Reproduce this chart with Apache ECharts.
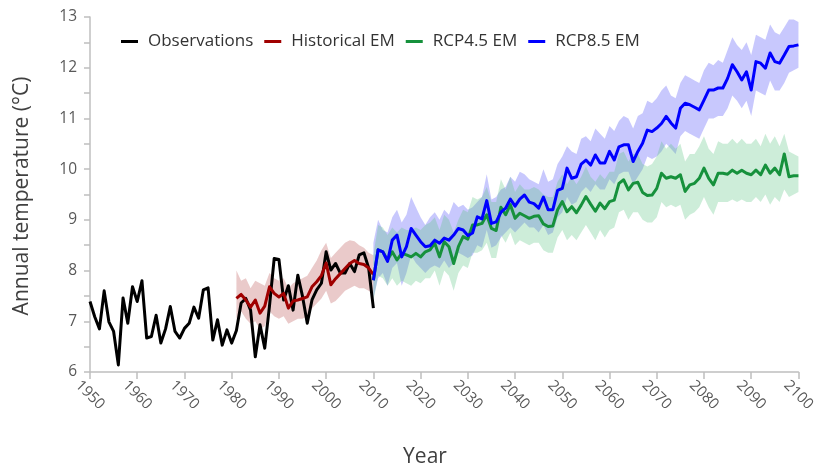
<!DOCTYPE html>
<html>
<head>
<meta charset="utf-8">
<script src="https://cdn.jsdelivr.net/npm/echarts@6/dist/echarts.min.js"></script>
<style>
  html, body { margin: 0; padding: 0; background: #ffffff; }
  #chart { width: 818px; height: 471px; }
</style>
</head>
<body>
<div id="chart"></div>
<script>
// Annual mean temperature: observations, historical ensemble mean and two RCP projections.

const obsStart = 1950;
const obsValues = [
  7.39, 7.09, 6.85, 7.60, 6.99, 6.80, 6.14, 7.46, 6.96, 7.68,
  7.39, 7.80, 6.67, 6.70, 7.12, 6.57, 6.85, 7.29, 6.80, 6.67,
  6.86, 6.96, 7.28, 7.06, 7.62, 7.66, 6.63, 7.03, 6.53, 6.83,
  6.57, 6.82, 7.36, 7.45, 7.22, 6.30, 6.93, 6.47, 7.30, 8.24,
  8.22, 7.42, 7.70, 7.22, 7.91, 7.49, 6.96, 7.42, 7.62, 7.75,
  8.37, 8.01, 8.14, 7.95, 7.95, 8.14, 7.98, 8.31, 8.35, 8.05,
  7.26
];

const histStart = 1981;
const histMean = [
  7.45, 7.53, 7.42, 7.28, 7.42, 7.16, 7.30, 7.68, 7.55, 7.48,
  7.55, 7.26, 7.40, 7.42, 7.45, 7.48, 7.68, 7.78, 7.90, 8.15,
  7.72, 7.84, 7.94, 8.04, 8.14, 8.20, 8.14, 8.12, 8.05, 7.92
];
const histHigh = [
  8.00, 7.80, 7.85, 7.65, 7.80, 7.75, 7.70, 7.95, 7.85, 7.80,
  7.85, 7.65, 7.75, 7.80, 7.85, 7.90, 8.05, 8.20, 8.40, 8.55,
  8.25, 8.35, 8.45, 8.55, 8.60, 8.58, 8.50, 8.45, 8.35, 8.30
];
const histLow = [
  7.05, 7.20, 7.05, 6.95, 7.00, 6.85, 6.90, 7.20, 7.10, 7.05,
  7.10, 6.95, 7.00, 7.05, 7.05, 7.10, 7.25, 7.35, 7.45, 7.60,
  7.35, 7.40, 7.50, 7.60, 7.65, 7.70, 7.65, 7.65, 7.60, 7.55
];

const rcpStart = 2010;
const rcp45Mean = [
  7.81, 8.41, 8.37, 8.21, 8.37, 8.21, 8.34, 8.31, 8.27, 8.34,
  8.27, 8.37, 8.41, 8.54, 8.27, 8.57, 8.47, 8.14, 8.47, 8.67,
  8.62, 8.90, 8.90, 8.93, 9.10, 8.83, 8.79, 9.25, 9.10, 9.30,
  9.03, 9.13, 9.08, 9.03, 9.07, 9.08, 8.92, 8.87, 8.88, 9.20,
  9.36, 9.16, 9.26, 9.14, 9.29, 9.46, 9.31, 9.17, 9.33, 9.22,
  9.36, 9.39, 9.72, 9.79, 9.59, 9.72, 9.74, 9.54, 9.48, 9.49,
  9.62, 9.92, 9.82, 9.85, 9.82, 9.89, 9.56, 9.69, 9.72, 9.82,
  10.02, 9.82, 9.69, 9.92, 9.92, 9.90, 9.98, 9.92, 9.98, 9.92,
  9.89, 9.98, 9.89, 10.08, 9.92, 10.02, 9.89, 10.30, 9.85, 9.87,
  9.87
];
const rcp45High = [
  8.30, 8.90, 8.85, 8.70, 8.85, 8.75, 8.85, 8.80, 8.80, 8.85,
  8.80, 8.90, 8.95, 9.05, 8.80, 9.10, 9.00, 8.75, 9.00, 9.20,
  9.15, 9.45, 9.40, 9.45, 9.65, 9.35, 9.35, 9.80, 9.60, 9.85,
  9.55, 9.70, 9.60, 9.60, 9.65, 9.60, 9.50, 9.45, 9.45, 9.75,
  9.90, 9.70, 9.85, 9.70, 9.85, 10.05, 9.85, 9.75, 9.90, 9.80,
  9.95, 9.95, 10.30, 10.35, 10.15, 10.30, 10.30, 10.10, 10.05, 10.10,
  10.25, 10.55, 10.40, 10.50, 10.40, 10.50, 10.15, 10.30, 10.30, 10.45,
  10.65, 10.40, 10.30, 10.55, 10.50, 10.50, 10.60, 10.50, 10.60, 10.50,
  10.50, 10.60, 10.45, 10.70, 10.50, 10.65, 10.45, 10.70, 10.35, 10.30,
  10.25
];
const rcp45Low = [
  7.40, 7.90, 7.85, 7.70, 7.85, 7.70, 7.80, 7.75, 7.70, 7.80,
  7.75, 7.85, 7.85, 8.00, 7.70, 8.00, 7.90, 7.60, 7.95, 8.10,
  8.05, 8.35, 8.35, 8.40, 8.55, 8.25, 8.25, 8.70, 8.55, 8.75,
  8.50, 8.60, 8.55, 8.50, 8.55, 8.55, 8.40, 8.35, 8.35, 8.65,
  8.80, 8.60, 8.70, 8.60, 8.75, 8.90, 8.75, 8.60, 8.80, 8.65,
  8.80, 8.85, 9.15, 9.20, 9.00, 9.15, 9.15, 9.00, 8.95, 8.95,
  9.05, 9.35, 9.25, 9.30, 9.25, 9.30, 9.00, 9.10, 9.15, 9.25,
  9.45, 9.25, 9.10, 9.35, 9.35, 9.35, 9.40, 9.35, 9.40, 9.35,
  9.35, 9.45, 9.35, 9.50, 9.30, 9.45, 9.35, 9.60, 9.45, 9.50,
  9.55
];

const rcp85Mean = [
  7.81, 8.41, 8.37, 8.18, 8.60, 8.70, 8.27, 8.47, 8.83, 8.70,
  8.57, 8.47, 8.49, 8.60, 8.54, 8.64, 8.60, 8.70, 8.83, 8.80,
  8.69, 8.74, 9.06, 9.02, 9.38, 8.93, 8.96, 9.15, 9.23, 9.41,
  9.27, 9.41, 9.49, 9.35, 9.32, 9.23, 9.45, 9.20, 9.20, 9.58,
  9.62, 10.02, 9.82, 9.85, 10.10, 10.18, 10.08, 10.28, 10.12, 10.12,
  10.35, 10.18, 10.44, 10.48, 10.48, 10.15, 10.35, 10.51, 10.77, 10.74,
  10.81, 10.90, 11.04, 10.91, 10.81, 11.20, 11.30, 11.27, 11.22, 11.17,
  11.36, 11.56, 11.56, 11.60, 11.60, 11.79, 12.06, 11.92, 11.76, 11.92,
  11.56, 12.12, 12.09, 11.99, 12.29, 12.12, 12.09, 12.25, 12.42, 12.43,
  12.45
];
const rcp85High = [
  8.55, 9.00, 8.80, 8.75, 9.05, 9.20, 8.95, 9.10, 9.45, 9.25,
  9.05, 8.90, 9.05, 9.15, 9.00, 9.20, 9.10, 9.35, 9.25, 9.30,
  9.20, 9.25, 9.35, 9.45, 9.90, 9.40, 9.45, 9.60, 9.65, 9.85,
  9.75, 9.95, 9.90, 9.80, 9.75, 9.70, 10.00, 9.75, 9.80, 10.10,
  10.25, 10.45, 10.35, 10.30, 10.60, 10.65, 10.55, 10.80, 10.70, 10.60,
  10.85, 10.75, 10.95, 11.05, 11.00, 10.80, 11.05, 11.10, 11.35, 11.30,
  11.40, 11.55, 11.65, 11.45, 11.40, 11.70, 11.85, 11.80, 11.75, 11.70,
  11.95, 12.10, 12.05, 12.15, 12.10, 12.35, 12.60, 12.45, 12.35, 12.50,
  12.25, 12.65, 12.60, 12.55, 12.85, 12.70, 12.65, 12.80, 12.95, 12.95,
  12.90
];
const rcp85Low = [
  7.45, 7.85, 7.95, 7.70, 8.05, 8.15, 7.70, 7.95, 8.30, 8.15,
  8.05, 7.95, 8.05, 8.10, 8.05, 8.20, 8.05, 8.15, 8.35, 8.30,
  8.25, 8.30, 8.50, 8.45, 8.80, 8.45, 8.50, 8.65, 8.75, 8.85,
  8.75, 8.85, 8.95, 8.85, 8.85, 8.75, 8.90, 8.70, 8.75, 9.05,
  9.15, 9.45, 9.30, 9.35, 9.55, 9.65, 9.55, 9.70, 9.60, 9.60,
  9.80, 9.70, 9.90, 9.95, 9.95, 9.70, 9.85, 10.00, 10.25, 10.20,
  10.25, 10.35, 10.50, 10.40, 10.30, 10.65, 10.75, 10.70, 10.65, 10.60,
  10.80, 11.00, 11.00, 11.05, 11.05, 11.20, 11.45, 11.35, 11.20, 11.35,
  11.05, 11.55, 11.50, 11.45, 11.75, 11.55, 11.55, 11.70, 11.90, 11.95,
  12.00
];

const seriesNames = ['Observations', 'Historical EM', 'RCP4.5 EM', 'RCP8.5 EM'];
const yearRange = [1950, 2100];
const tempRange = [6, 13];

const FONT = '"Open Sans", "Noto Sans", sans-serif';
const AXIS_GREY = '#bfbfbf';
const TEXT_GREY = '#595959';

function pairs(start, values) {
  return values.map((v, i) => [start + i, v]);
}

// Shaded spread between a low and a high bound, drawn as one polygon
// whose vertices are mapped through the chart's own axes.
function band(id, start, low, high, fill) {
  return {
    type: 'custom', id: id, silent: true, z: 1,
    clip: true,
    data: low.map((l, i) => [start + i, l, high[i]]),
    encode: { x: 0, y: [1, 2] },
    renderItem: function (params, api) {
      if (params.dataIndex !== 0) return null;
      const points = [];
      for (let i = 0; i < high.length; i++) points.push(api.coord([start + i, high[i]]));
      for (let i = low.length - 1; i >= 0; i--) points.push(api.coord([start + i, low[i]]));
      return {
        type: 'polygon',
        shape: { points: points },
        style: { fill: fill, stroke: null }
      };
    }
  };
}

function line(name, start, values, color) {
  return {
    type: 'line', name: name, data: pairs(start, values),
    symbol: 'none', color: color,
    lineStyle: { color: color, width: 3, join: 'round' }, z: 3
  };
}

const chart = echarts.init(document.getElementById('chart'), null, { renderer: 'canvas' });

chart.setOption({
  animation: false,
  backgroundColor: '#ffffff',
  grid: { left: 90, right: 16, top: 17, bottom: 99 },
  legend: {
    data: seriesNames,
    left: 116, top: 28,
    icon: 'rect', itemWidth: 17, itemHeight: 3, itemGap: 11,
    textStyle: { fontFamily: FONT, fontSize: 17, color: '#333333', padding: [0, 0, 0, 5] }
  },
  xAxis: {
    type: 'value', min: yearRange[0], max: yearRange[1], interval: 10,
    axisLine: { show: true, lineStyle: { color: AXIS_GREY, width: 1.5 } },
    axisTick: { show: true, length: 7, lineStyle: { color: AXIS_GREY, width: 1.5 } },
    splitLine: { show: false },
    axisLabel: {
      rotate: -45, margin: 23, align: 'center', verticalAlign: 'middle',
      fontFamily: FONT, fontSize: 15, color: TEXT_GREY,
      formatter: v => String(v)
    }
  },
  yAxis: {
    type: 'value', min: tempRange[0], max: tempRange[1], interval: 1,
    axisLine: { show: true, lineStyle: { color: AXIS_GREY, width: 1.5 } },
    axisTick: { show: true, length: 6, lineStyle: { color: AXIS_GREY, width: 1.5 } },
    minorTick: { show: true, splitNumber: 2, length: 6, lineStyle: { color: AXIS_GREY, width: 1.5 } },
    splitLine: { show: false },
    axisLabel: { margin: 13, fontFamily: FONT, fontSize: 15.5, color: TEXT_GREY }
  },
  graphic: [
    {
      type: 'text', x: 22, y: 196, rotation: Math.PI / 2,
      style: {
        text: 'Annual temperature (°C)', fontFamily: FONT, fontSize: 21,
        fill: '#404040', align: 'center', verticalAlign: 'middle'
      }
    },
    {
      type: 'text', x: 425, y: 457,
      style: {
        text: 'Year', fontFamily: FONT, fontSize: 21,
        fill: '#404040', align: 'center', verticalAlign: 'middle'
      }
    }
  ],
  series: [
    band('hist-band', histStart, histLow, histHigh, 'rgba(190, 90, 90, 0.32)'),
    band('rcp85-band', rcpStart, rcp85Low, rcp85High, 'rgba(110, 110, 250, 0.38)'),
    band('rcp45-band', rcpStart, rcp45Low, rcp45High, 'rgba(90, 195, 130, 0.30)'),
    line(seriesNames[0], obsStart, obsValues, '#000000'),
    line(seriesNames[1], histStart, histMean, '#a00000'),
    line(seriesNames[2], rcpStart, rcp45Mean, '#16913c'),
    line(seriesNames[3], rcpStart, rcp85Mean, '#0000ff')
  ]
});
</script>
</body>
</html>
